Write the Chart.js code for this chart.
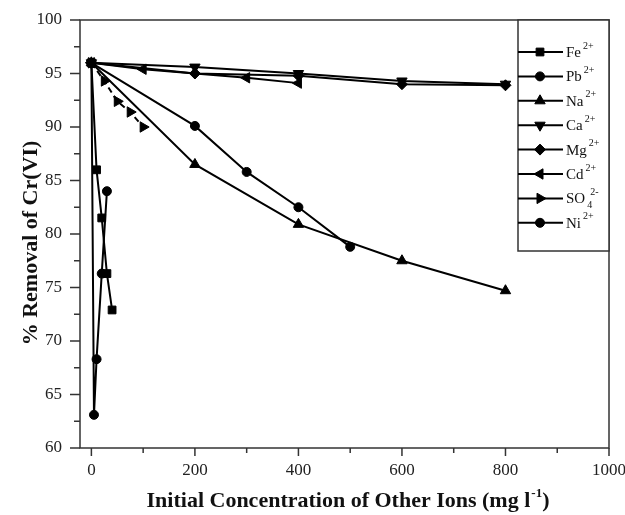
<!DOCTYPE html>
<html>
<head>
<meta charset="utf-8">
<script src="https://cdn.jsdelivr.net/npm/chart.js@4.4.0/dist/chart.umd.min.js"></script>
<style>
    html, body { margin: 0; padding: 0; background: #fff; }
    #wrap { width: 625px; height: 515px; }
</style>
</head>
<body>
<div id="wrap"><canvas id="myChart" width="625" height="515"></canvas></div>
<script>
// initial concentration (mg/l) and % removal of Cr(VI)
const feX = [0, 10, 20, 30, 40];
const feY = [96, 86, 81.5, 76.3, 72.9];
const pbX = [0, 200, 300, 400, 500];
const pbY = [96, 90.1, 85.8, 82.5, 78.8];
const naX = [0, 200, 400, 600, 800];
const naY = [96, 86.5, 80.9, 77.5, 74.7];
const caX = [0, 200, 400, 600, 800];
const caY = [96, 95.6, 95.0, 94.3, 94.0];
const mgX = [0, 200, 400, 600, 800];
const mgY = [96, 95.0, 94.8, 94.0, 93.9];
const cdX = [0, 100, 300, 400];
const cdY = [96, 95.4, 94.6, 94.1];
const so4X = [0, 25, 50, 75, 100];
const so4Y = [96, 94.3, 92.4, 91.4, 90.0];
const niX = [0, 5, 10, 20, 30];
const niY = [96, 63.1, 68.3, 76.3, 84.0];

// legend labels: symbol, subscript, charge
const ionNames = ['Fe', 'Pb', 'Na', 'Ca', 'Mg', 'Cd', 'SO', 'Ni'];
const ionSubs = ['', '', '', '', '', '', '4', ''];
const ionCharges = ['2+', '2+', '2+', '2+', '2+', '2+', '2-', '2+'];

const xTicks = [0, 200, 400, 600, 800, 1000];
const yTicks = [60, 65, 70, 75, 80, 85, 90, 95, 100];

const SERIF = "'Liberation Serif', 'DejaVu Serif', serif";

function pts(xs, ys) {
    return xs.map((x, i) => ({ x: x, y: ys[i] }));
}

function series(xs, ys, style, rot, r, dash) {
    return {
        data: pts(xs, ys),
        showLine: true,
        borderColor: '#000',
        borderWidth: 2,
        borderDash: dash || [],
        pointStyle: style,
        rotation: rot,
        pointRadius: r,
        pointHoverRadius: r,
        pointBackgroundColor: '#000',
        pointBorderColor: '#000',
        pointBorderWidth: 1,
        fill: false,
        tension: 0
    };
}

const frame = {
    id: 'frame',
    beforeDatasetsDraw(chart) {
        const ctx = chart.ctx;
        const a = chart.chartArea;
        const xs = chart.scales.x, ys = chart.scales.y;
        ctx.save();
        ctx.strokeStyle = '#333';
        ctx.lineWidth = 1.5;
        ctx.strokeRect(a.left, a.top, a.right - a.left, a.bottom - a.top);
        ctx.beginPath();
        for (let v = 60; v <= 100; v += 2.5) {
            const py = ys.getPixelForValue(v);
            const len = (v % 5 === 0) ? 10 : 6;
            ctx.moveTo(a.left, py);
            ctx.lineTo(a.left - len, py);
        }
        for (let v = 0; v <= 1000; v += 100) {
            const px = xs.getPixelForValue(v);
            const len = (v % 200 === 0) ? 8 : 5;
            ctx.moveTo(px, a.bottom);
            ctx.lineTo(px, a.bottom + len);
        }
        ctx.stroke();
        ctx.restore();
    },
    afterDraw(chart) {
        const ctx = chart.ctx;
        const a = chart.chartArea;
        ctx.save();
        // legend box
        const bx = 518, by = a.top, bw = a.right - 518, bh = 231;
        ctx.fillStyle = '#fff';
        ctx.fillRect(bx, by, bw, bh);
        ctx.strokeStyle = '#333';
        ctx.lineWidth = 1.5;
        ctx.strokeRect(bx, by, bw, bh);
        chart.data.datasets.forEach((ds, i) => {
            const y = 52 + i * 24.4;
            ctx.strokeStyle = '#000';
            ctx.lineWidth = 2;
            ctx.setLineDash([]);
            ctx.beginPath();
            ctx.moveTo(bx, y);
            ctx.lineTo(563, y);
            ctx.stroke();
            ctx.fillStyle = '#000';
            ctx.lineWidth = 1;
            Chart.helpers.drawPoint(ctx, {
                pointStyle: ds.pointStyle,
                rotation: ds.rotation,
                radius: ds.pointRadius,
                borderWidth: 1
            }, 540, y);
            ctx.fillStyle = '#111';
            ctx.textBaseline = 'middle';
            ctx.textAlign = 'left';
            ctx.font = '15px ' + SERIF;
            ctx.fillText(ionNames[i], 566, y + 1);
            let tx = 566 + ctx.measureText(ionNames[i]).width + 2;
            ctx.font = '10px ' + SERIF;
            if (ionSubs[i]) {
                ctx.fillText(ionSubs[i], tx, y + 7);
                tx += 3;
            }
            ctx.fillText(ionCharges[i], tx, y - 6);
        });

        // axis titles
        ctx.fillStyle = '#111';
        ctx.textBaseline = 'alphabetic';
        ctx.textAlign = 'left';
        const main = 'Initial Concentration of Other Ions (mg l';
        ctx.font = 'bold 22px ' + SERIF;
        const w1 = ctx.measureText(main).width;
        const w3 = ctx.measureText(')').width;
        ctx.font = 'bold 13px ' + SERIF;
        const w2 = ctx.measureText('-1').width;
        let sx = 348 - (w1 + w2 + w3 + 1) / 2;
        ctx.font = 'bold 22px ' + SERIF;
        ctx.fillText(main, sx, 507);
        ctx.font = 'bold 13px ' + SERIF;
        ctx.fillText('-1', sx + w1 + 1, 497);
        ctx.font = 'bold 22px ' + SERIF;
        ctx.fillText(')', sx + w1 + w2 + 1, 507);

        ctx.translate(37, 243);
        ctx.rotate(-Math.PI / 2);
        ctx.textAlign = 'center';
        ctx.font = 'bold 22px ' + SERIF;
        ctx.fillText('% Removal of Cr(VI)', 0, 0);
        ctx.restore();
    }
};

const ctx = document.getElementById('myChart').getContext('2d');
new Chart(ctx, {
    type: 'scatter',
    data: {
        datasets: [
            series(feX, feY, 'rect', 0, 5.5),
            series(pbX, pbY, 'circle', 0, 4.5),
            series(naX, naY, 'triangle', 0, 6),
            series(caX, caY, 'triangle', 180, 6),
            series(mgX, mgY, 'rectRot', 0, 5.5),
            series(cdX, cdY, 'triangle', -90, 6),
            series(so4X, so4Y, 'triangle', 90, 6, [6, 4]),
            series(niX, niY, 'circle', 0, 4.5)
        ]
    },
    options: {
        responsive: false,
        animation: false,
        devicePixelRatio: 1,
        layout: { padding: { top: 20, right: 16, left: 0, bottom: 0 } },
        plugins: {
            legend: { display: false },
            tooltip: { enabled: false }
        },
        scales: {
            x: {
                type: 'linear',
                min: -22,
                max: 1000,
                afterBuildTicks: (scale) => { scale.ticks = xTicks.map(v => ({ value: v })); },
                afterFit: (scale) => {
                    scale.height = 67;
                    scale.paddingLeft = 0;
                    scale.paddingRight = 0;
                },
                grid: { display: false, drawTicks: false },
                border: { display: false },
                ticks: {
                    padding: 12,
                    color: '#222',
                    maxRotation: 0,
                    callback: (v) => String(v),
                    font: { family: SERIF, size: 17 }
                }
            },
            y: {
                type: 'linear',
                min: 60,
                max: 100,
                afterBuildTicks: (scale) => { scale.ticks = yTicks.map(v => ({ value: v })); },
                afterFit: (scale) => {
                    scale.width = 80;
                    scale.paddingTop = 0;
                    scale.paddingBottom = 0;
                },
                grid: { display: false, drawTicks: false },
                border: { display: false },
                ticks: {
                    padding: 18,
                    color: '#222',
                    callback: (v) => String(v),
                    font: { family: SERIF, size: 17 }
                }
            }
        }
    },
    plugins: [frame]
});
</script>
</body>
</html>
